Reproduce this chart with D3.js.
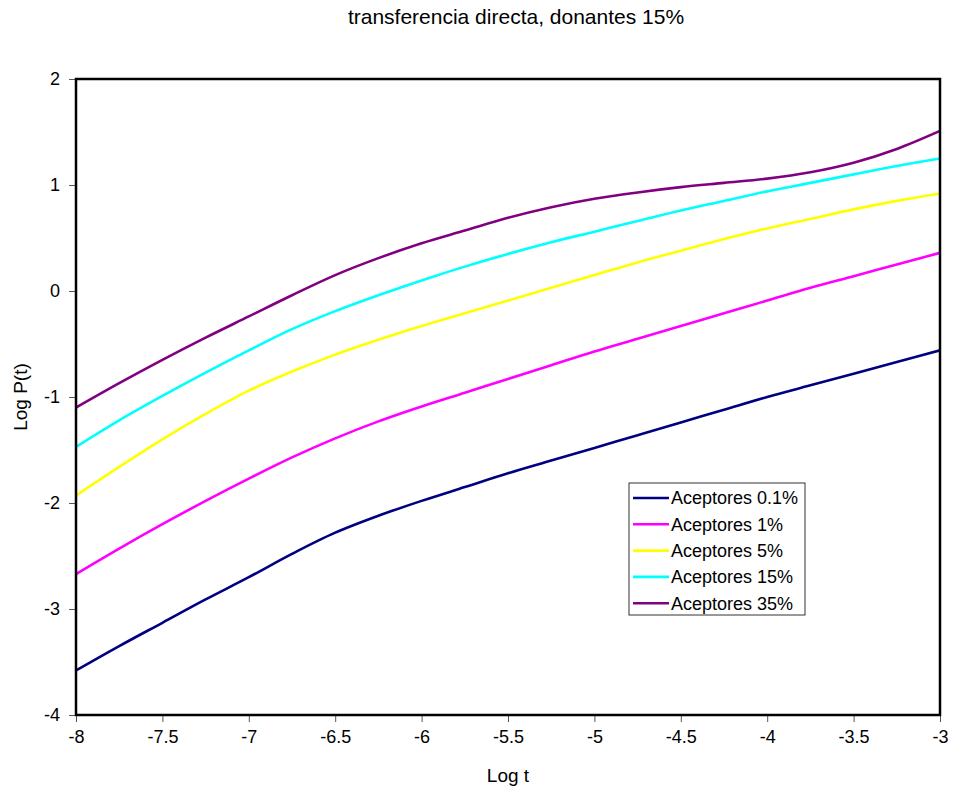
<!DOCTYPE html>
<html>
<head>
<meta charset="utf-8">
<script src="https://cdn.jsdelivr.net/npm/d3@7"></script>
<style>
  html, body { margin: 0; padding: 0; background: #fff; }
  svg { display: block; font-family: "Liberation Sans", Arial, sans-serif; }
</style>
</head>
<body>
<svg id="chart" width="953" height="794"></svg>
<script>
// ---- data ----
const logT = [-8, -7.75, -7.5, -7.25, -7, -6.75, -6.5, -6.25, -6, -5.75, -5.5, -5.25, -5, -4.75, -4.5, -4.25, -4, -3.75, -3.5, -3.25, -3];
const seriesNames = ["Aceptores 0.1%", "Aceptores 1%", "Aceptores 5%", "Aceptores 15%", "Aceptores 35%"];
const acep01 = [-3.58, -3.35, -3.13, -2.91, -2.70, -2.48, -2.28, -2.12, -1.98, -1.85, -1.72, -1.60, -1.48, -1.36, -1.24, -1.12, -1.00, -0.89, -0.78, -0.67, -0.56];
const acep1  = [-2.67, -2.43, -2.20, -1.98, -1.77, -1.57, -1.39, -1.23, -1.09, -0.96, -0.83, -0.70, -0.57, -0.45, -0.33, -0.21, -0.09, 0.03, 0.14, 0.25, 0.36];
const acep5  = [-1.93, -1.66, -1.40, -1.16, -0.94, -0.76, -0.60, -0.46, -0.33, -0.21, -0.09, 0.03, 0.15, 0.27, 0.38, 0.49, 0.59, 0.68, 0.77, 0.85, 0.92];
const acep15 = [-1.47, -1.22, -0.99, -0.77, -0.56, -0.36, -0.19, -0.04, 0.10, 0.23, 0.35, 0.46, 0.56, 0.66, 0.76, 0.85, 0.94, 1.02, 1.10, 1.18, 1.25];
const acep35 = [-1.10, -0.87, -0.65, -0.44, -0.24, -0.04, 0.15, 0.31, 0.45, 0.57, 0.69, 0.79, 0.87, 0.93, 0.98, 1.02, 1.06, 1.12, 1.21, 1.34, 1.51];
const seriesValues = [acep01, acep1, acep5, acep15, acep35];
const seriesColors = ["#000080", "#FF00FF", "#FFFF00", "#00FFFF", "#800080"];
const xTicks = [-8, -7.5, -7, -6.5, -6, -5.5, -5, -4.5, -4, -3.5, -3];
const yTicks = [-4, -3, -2, -1, 0, 1, 2];
const titleText = "transferencia directa, donantes 15%";
const xTitle = "Log t";
const yTitle = "Log P(t)";

// ---- layout ----
const svg = d3.select("#chart");
const plot = { left: 76, top: 79, right: 940, bottom: 715 };

const x = d3.scaleLinear().domain([-8, -3]).range([plot.left, plot.right]);
const y = d3.scaleLinear().domain([-4, 2]).range([plot.bottom, plot.top]);

// title
svg.append("text")
  .attr("x", 516).attr("y", 24)
  .attr("text-anchor", "middle")
  .attr("font-size", 21)
  .attr("fill", "#000")
  .text(titleText);

// axes
const xAxis = d3.axisBottom(x).tickValues(xTicks).tickSize(7).tickPadding(8)
  .tickFormat(d => String(d));
const yAxis = d3.axisLeft(y).tickValues(yTicks).tickSize(7).tickPadding(9)
  .tickFormat(d => String(d));

const gx = svg.append("g").attr("transform", `translate(0,${plot.bottom})`).call(xAxis);
const gy = svg.append("g").attr("transform", `translate(${plot.left},0)`).call(yAxis);
[gx, gy].forEach(g => {
  g.select(".domain").remove();
  g.selectAll(".tick line").attr("stroke", "#555").attr("stroke-width", 1);
  g.selectAll(".tick text").attr("font-size", 18).attr("fill", "#000")
    .attr("font-family", "'Liberation Sans', Arial, sans-serif");
});

// series lines
const line = d3.line()
  .x((d, i) => x(logT[i]))
  .y(d => y(d))
  .curve(d3.curveCatmullRom.alpha(0.5));

const clipId = "plotclip";
svg.append("clipPath").attr("id", clipId).append("rect")
  .attr("x", plot.left).attr("y", plot.top)
  .attr("width", plot.right - plot.left).attr("height", plot.bottom - plot.top);

svg.append("g").attr("clip-path", `url(#${clipId})`)
  .selectAll("path.series")
  .data(seriesValues)
  .join("path")
  .attr("class", "series")
  .attr("fill", "none")
  .attr("stroke", (d, i) => seriesColors[i])
  .attr("stroke-width", 2.6)
  .attr("stroke-linejoin", "round")
  .attr("d", d => line(d));

// plot frame
svg.append("rect")
  .attr("x", plot.left).attr("y", plot.top)
  .attr("width", plot.right - plot.left).attr("height", plot.bottom - plot.top)
  .attr("fill", "none").attr("stroke", "#000").attr("stroke-width", 2.5);

// axis titles
svg.append("text")
  .attr("x", 508).attr("y", 782)
  .attr("text-anchor", "middle")
  .attr("font-size", 19)
  .text(xTitle);

svg.append("text")
  .attr("transform", `translate(27,${(plot.top + plot.bottom) / 2}) rotate(-90)`)
  .attr("text-anchor", "middle")
  .attr("font-size", 19)
  .text(yTitle);

// legend
const lg = svg.append("g").attr("transform", "translate(629,483)");
lg.append("rect")
  .attr("x", 0).attr("y", 0).attr("width", 176).attr("height", 132)
  .attr("fill", "#fff").attr("stroke", "#333").attr("stroke-width", 1);
const rows = lg.selectAll("g.row").data(seriesNames).join("g")
  .attr("class", "row")
  .attr("transform", (d, i) => `translate(0,${15 + i * 26.3})`);
rows.append("line")
  .attr("x1", 4).attr("x2", 40).attr("y1", 0).attr("y2", 0)
  .attr("stroke", (d, i) => seriesColors[i]).attr("stroke-width", 2.6);
rows.append("text")
  .attr("x", 42).attr("y", 0).attr("dy", "0.36em")
  .attr("font-size", 18)
  .text(d => d);
</script>
</body>
</html>
